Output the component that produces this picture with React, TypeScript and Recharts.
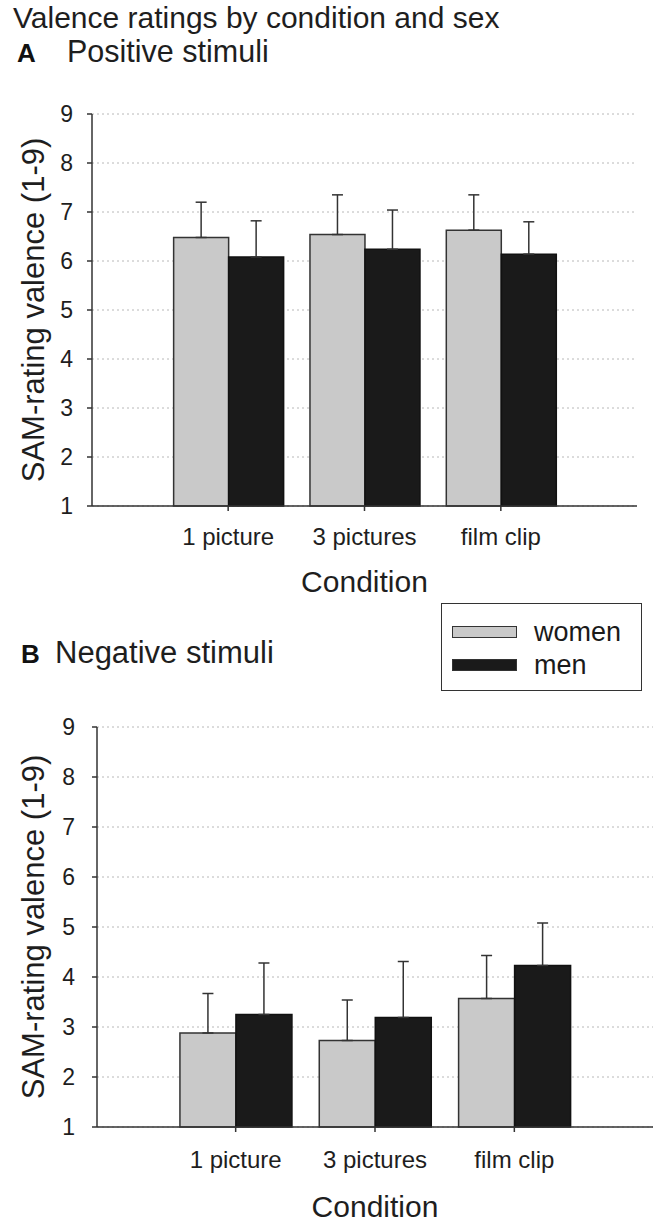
import React from 'react';
import { BarChart, Bar, XAxis, YAxis, CartesianGrid, ErrorBar, Legend } from 'recharts';

const conditions = ['1 picture', '3 pictures', 'film clip'];
const yTicks = [1, 2, 3, 4, 5, 6, 7, 8, 9];

const posWomen = [6.48, 6.54, 6.63];
const posWomenErr = [0.72, 0.81, 0.72];
const posMen = [6.08, 6.24, 6.14];
const posMenErr = [0.74, 0.8, 0.66];

const negWomen = [2.88, 2.73, 3.57];
const negWomenErr = [0.79, 0.81, 0.86];
const negMen = [3.25, 3.19, 4.23];
const negMenErr = [1.03, 1.12, 0.85];

const seriesNames = ['women', 'men'];

const FONT = '"Liberation Sans", Arial, Helvetica, sans-serif';
const WOMEN_FILL = '#c9c9c9';
const MEN_FILL = '#1a1a1a';
const LINE = '#333333';

const build = (w: number[], we: number[], m: number[], me: number[]) =>
  conditions.map((c, i) => ({
    cond: c,
    women: w[i],
    men: m[i],
    womenErr: [0, we[i]],
    menErr: [0, me[i]],
  }));

const posData = build(posWomen, posWomenErr, posMen, posMenErr);
const negData = build(negWomen, negWomenErr, negMen, negMenErr);

const LegendBox = () => (
  <div
    style={{
      position: 'relative',
      width: 201,
      height: 88,
      boxSizing: 'border-box',
      border: `1.5px solid ${LINE}`,
      background: '#fff',
      fontFamily: FONT,
      fontSize: 27,
      color: '#1a1a1a',
    }}
  >
    {seriesNames.map((n, i) => (
      <React.Fragment key={n}>
        <div
          style={{
            position: 'absolute',
            left: 10,
            top: 22 + i * 33,
            width: 65,
            height: 12,
            boxSizing: 'border-box',
            background: i === 0 ? WOMEN_FILL : MEN_FILL,
            border: `1.5px solid ${LINE}`,
          }}
        />
        <div
          style={{
            position: 'absolute',
            left: 92,
            top: 12 + i * 33,
            lineHeight: '32px',
            height: 32,
          }}
        >
          {n}
        </div>
      </React.Fragment>
    ))}
  </div>
);

type PanelProps = {
  data: any[];
  height: number;
  margin: { top: number; right: number; bottom: number; left: number };
  yAxisWidth: number;
  xAxisHeight: number;
  yTickMargin: number;
  xTickMargin: number;
  xPad: number;
  labelOffset: number;
  legend?: boolean;
};

const Panel = (p: PanelProps) => (
  <BarChart
    width={661}
    height={p.height}
    data={p.data}
    margin={p.margin}
    barCategoryGap="10%"
    barGap={0}
    style={{ fontFamily: FONT }}
  >
    <CartesianGrid vertical={false} stroke="#b8b8b8" strokeDasharray="2 3" strokeWidth={1} />
    <XAxis
      dataKey="cond"
      height={p.xAxisHeight}
      padding={{ left: p.xPad, right: p.xPad }}
      axisLine={{ stroke: LINE, strokeWidth: 1.5 }}
      tickLine={{ stroke: LINE, strokeWidth: 1.5 }}
      tickSize={5}
      tickMargin={p.xTickMargin}
      tick={{ fontSize: 24, fill: '#1e1e1e', fontFamily: FONT }}
      interval={0}
      label={{
        value: 'Condition',
        position: 'insideBottom',
        offset: p.labelOffset,
        fontSize: 30,
        fill: '#1e1e1e',
        fontFamily: FONT,
      }}
    />
    <YAxis
      type="number"
      domain={[1, 9]}
      ticks={yTicks}
      interval={0}
      width={p.yAxisWidth}
      axisLine={{ stroke: LINE, strokeWidth: 1.5 }}
      tickLine={{ stroke: LINE, strokeWidth: 1.5 }}
      tickSize={5}
      tickMargin={p.yTickMargin}
      tick={{ fontSize: 23, fill: '#1e1e1e', fontFamily: FONT }}
      label={{
        value: 'SAM-rating valence (1-9)',
        angle: -90,
        position: 'insideLeft',
        offset: 13,
        fontSize: 31,
        fill: '#1e1e1e',
        fontFamily: FONT,
        style: { textAnchor: 'middle' },
      }}
    />
    <Bar dataKey="women" name="women" fill={WOMEN_FILL} stroke={LINE} strokeWidth={1.5} isAnimationActive={false}>
      <ErrorBar dataKey="womenErr" direction="y" width={5.5} stroke={LINE} strokeWidth={1.5} isAnimationActive={false} />
    </Bar>
    <Bar dataKey="men" name="men" fill={MEN_FILL} stroke="#111" strokeWidth={1.5} isAnimationActive={false}>
      <ErrorBar dataKey="menErr" direction="y" width={5.5} stroke={LINE} strokeWidth={1.5} isAnimationActive={false} />
    </Bar>
    {p.legend ? (
      <Legend
        layout="horizontal"
        verticalAlign="middle"
        align="center"
        wrapperStyle={{ position: 'absolute', left: 441, top: 3, width: 201, height: 88, margin: 0, padding: 0 }}
        content={() => <LegendBox />}
      />
    ) : null}
  </BarChart>
);

export default function App() {
  return (
    <div style={{ position: 'absolute', left: 0, top: 0, width: 661, height: 1222, background: '#fff', overflow: 'hidden' }}>
      <svg width={661} height={1222} style={{ position: 'absolute', left: 0, top: 0 }}>
        <text x={13} y={28} fontSize={30} fontFamily={FONT} fill="#1e1e1e">
          Valence ratings by condition and sex
        </text>
        <text x={17} y={62} fontSize={26} fontWeight="bold" fontFamily={FONT} fill="#111">
          A
        </text>
        <text x={67} y={62} fontSize={30.5} fontFamily={FONT} fill="#1e1e1e">
          Positive stimuli
        </text>
        <text x={21} y={663} fontSize={26} fontWeight="bold" fontFamily={FONT} fill="#111">
          B
        </text>
        <text x={55} y={663} fontSize={31} fontFamily={FONT} fill="#1e1e1e">
          Negative stimuli
        </text>
      </svg>
      <div style={{ position: 'absolute', left: 0, top: 0 }}>
        <Panel
          data={posData}
          height={600}
          margin={{ top: 114, right: 24, bottom: 0, left: 20 }}
          yAxisWidth={72}
          xAxisHeight={94}
          yTickMargin={14}
          xTickMargin={17}
          xPad={68}
          labelOffset={8}
        />
      </div>
      <div style={{ position: 'absolute', left: 0, top: 600 }}>
        <Panel
          data={negData}
          height={622}
          margin={{ top: 127, right: 8, bottom: 0, left: 20 }}
          yAxisWidth={77}
          xAxisHeight={95}
          yTickMargin={17}
          xTickMargin={19}
          xPad={69}
          labelOffset={5}
          legend
        />
      </div>
    </div>
  );
}
